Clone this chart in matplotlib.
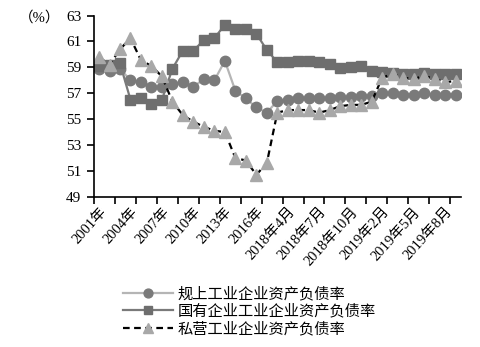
import matplotlib
matplotlib.use("Agg")
import matplotlib.pyplot as plt
import numpy as np

plt.rcParams['font.family'] = ['Liberation Serif', 'Noto Sans CJK SC']

# categories: 2001-2017 yearly, then monthly 2018-03..2018-12, 2019-02..2019-09
categories = ([f"{y}年" for y in range(2001, 2018)]
              + [f"2018年{m}月" for m in range(3, 13)]
              + [f"2019年{m}月" for m in range(2, 10)])

shown_labels = ["2001年", "2004年", "2007年", "2010年", "2013年", "2016年",
                "2018年4月", "2018年7月", "2018年10月", "2019年2月", "2019年5月", "2019年8月"]

guishang = [58.9, 58.7, 58.9, 58.0, 57.9, 57.5, 57.5, 57.7, 57.9, 57.5, 58.1, 58.0,
            59.5, 57.2, 56.6, 55.9, 55.5, 56.4, 56.5, 56.6, 56.6, 56.6, 56.6, 56.7,
            56.7, 56.8, 56.8, 57.0, 57.0, 56.9, 56.9, 57.0, 56.9, 56.9, 56.9]

guoyou = [59.1, 59.2, 59.3, 56.5, 56.6, 56.2, 56.5, 58.9, 60.3, 60.3, 61.1, 61.25,
          62.3, 62.0, 61.95, 61.6, 60.35, 59.4, 59.4, 59.5, 59.5, 59.4, 59.25, 58.95,
          59.0, 59.1, 58.75, 58.65, 58.6, 58.45, 58.45, 58.55, 58.45, 58.45, 58.45]

siying = [59.8, 59.2, 60.4, 61.25, 59.55, 59.1, 58.3, 56.35, 55.3, 54.8, 54.4, 54.1,
          54.0, 52.0, 51.8, 50.7, 51.6, 55.5, 55.7, 55.7, 55.7, 55.5, 55.7, 56.0,
          56.1, 56.1, 56.35, 58.2, 58.5, 58.2, 58.1, 58.35, 58.1, 57.85, 57.95]

series_names = ["规上工业企业资产负债率", "国有企业工业企业资产负债率", "私营工业企业资产负债率"]

x = np.arange(len(categories))

fig = plt.figure(figsize=(4.81, 3.47), dpi=100)
ax = fig.add_axes([0.195, 0.433, 0.763, 0.522])

l1, = ax.plot(x, guishang, color='#b5b5b5', lw=1.6, marker='o', ms=7.5,
              mfc='#7a7a7a', mec='#7a7a7a', label=series_names[0])
l2, = ax.plot(x, guoyou, color='#7a7a7a', lw=1.6, marker='s', ms=6.5,
              mfc='#6e6e6e', mec='#6e6e6e', label=series_names[1])
l3, = ax.plot(x, siying, color='black', lw=1.6, ls=(0, (3, 2)), marker='^', ms=8,
              mfc='#a8a8a8', mec='#a8a8a8', label=series_names[2])

ax.set_xlim(-0.5, len(categories) - 0.5)
ax.set_ylim(49, 63)
ax.set_yticks(np.arange(49, 64, 2))
ax.tick_params(axis='y', labelsize=11, length=5, width=1.2, direction='out', pad=4)

ax.set_xticks(np.arange(-0.5, len(categories) - 0.5, 2))
ax.set_xticks([categories.index(s) for s in shown_labels], minor=True)
ax.set_xticklabels([''] * len(ax.get_xticks()))
ax.set_xticklabels(shown_labels, minor=True, rotation=48, ha='right',
                   rotation_mode='anchor', fontsize=10.5)
ax.tick_params(axis='x', which='major', length=5, width=1.2, direction='out')
ax.tick_params(axis='x', which='minor', length=0, pad=6)

for s in ['top', 'right']:
    ax.spines[s].set_visible(False)
for s in ['left', 'bottom']:
    ax.spines[s].set_linewidth(1.2)

fig.text(0.04, 0.95, "（%）", fontsize=10.5, ha='left', va='center')

fig.legend(handles=[l1, l2, l3], loc='upper left', bbox_to_anchor=(0.255, 0.175),
           frameon=False, fontsize=11, handlelength=3.3, handletextpad=0.3,
           labelspacing=0.2, borderaxespad=0, borderpad=0, markerscale=0.85)

fig.savefig("out.png", dpi=100)
